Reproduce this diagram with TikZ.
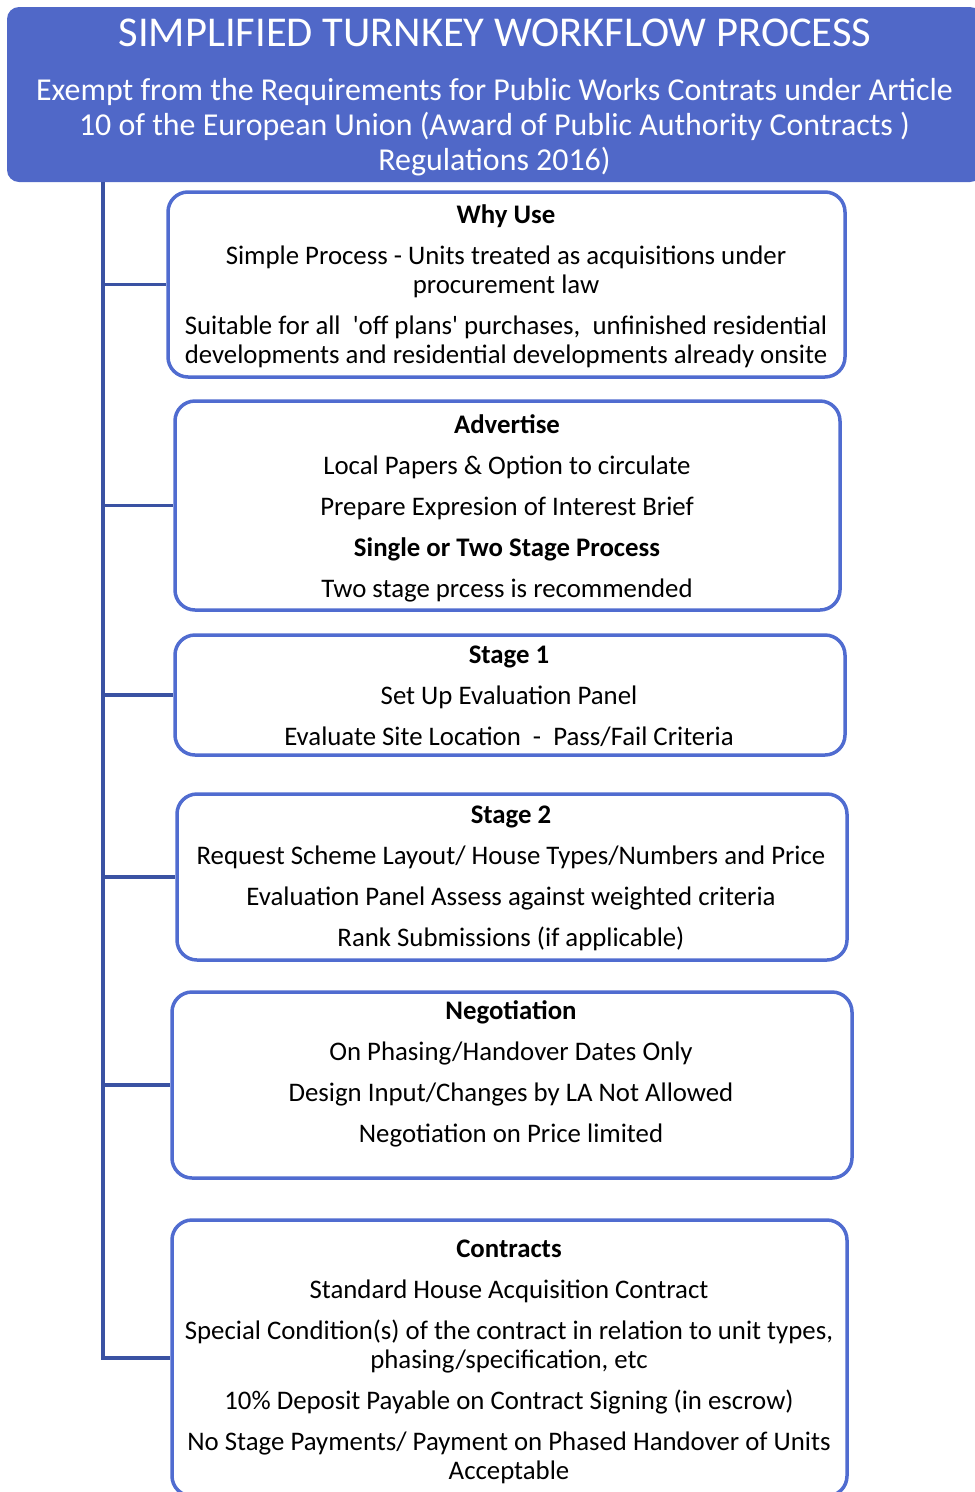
\documentclass[tikz,border=0pt]{standalone}
\usepackage{fontspec}
\setmainfont{Carlito}
\definecolor{hdr}{RGB}{80,104,200}
\definecolor{bord}{RGB}{80,108,208}
\definecolor{spine}{RGB}{58,82,163}
\begin{document}
\begin{tikzpicture}[x=1pt,y=-1pt,
  stagebox/.style={draw=bord, line width=3.5pt, rounded corners=20pt, fill=white, inner sep=0pt},
  stagetext/.style={align=center, font=\fontsize{26.8}{29}\selectfont, text=black, inner sep=0pt},
  link/.style={draw=spine, line width=3.5pt}]
\useasboundingbox (0,0) rectangle (975,1492);
% header
\node[fill=hdr, rounded corners=12pt, minimum width=975pt, minimum height=175pt, inner sep=0pt] (hdr) at (494.5,94.5) {};
\node[text=white, font=\fontsize{42.5}{48}\selectfont, inner sep=0pt] (title) at (495,32.5) {SIMPLIFIED TURNKEY WORKFLOW PROCESS};
\node[text=white, align=center, font=\fontsize{31.9}{35}\selectfont, inner sep=0pt] (sub) at (494.5,127.5) {Exempt from the Requirements for Public Works Contrats under Article\\10 of the European Union (Award of Public Authority Contracts )\\Regulations 2016)};
% boxes
\node[stagebox, minimum width=677pt, minimum height=185pt] (b1) at (506.5,284.5) {};
\node[stagebox, minimum width=665pt, minimum height=209pt] (b2) at (507.5,505.5) {};
\node[stagebox, minimum width=670pt, minimum height=120pt] (b3) at (510,695) {};
\node[stagebox, minimum width=670pt, minimum height=166pt] (b4) at (512,877) {};
\node[stagebox, minimum width=680pt, minimum height=186pt] (b5) at (512,1085) {};
\node[stagebox, minimum width=675pt, minimum height=276pt] (b6) at (509.5,1358) {};
% spine and links
\coordinate (top) at (103,182);
\draw[link] (top) |- (b6.west);
\draw[link] (b1.west -| top) -- (b1.west);
\draw[link] (b2.west -| top) -- (b2.west);
\draw[link] (b3.west -| top) -- (b3.west);
\draw[link] (b4.west -| top) -- (b4.west);
\draw[link] (b5.west -| top) -- (b5.west);
% texts
\node[stagetext] (t1) at (506,286) {\textbf{Why Use}\\[12pt]Simple Process - Units treated as acquisitions under\\procurement law\\[12pt]Suitable for all\ \ \textquotesingle off plans\textquotesingle{} purchases,\ \ unfinished residential\\developments and residential developments already onsite};
\node[stagetext] (t2) at (507,508) {\textbf{Advertise}\\[12pt]Local Papers \& Option to circulate\\[12pt]Prepare Expresion of Interest Brief\\[12pt]\textbf{Single or Two Stage Process}\\[12pt]Two stage prcess is recommended};
\node[stagetext] (t3) at (509,696.5) {\textbf{Stage 1}\\[12pt]Set Up Evaluation Panel\\[12pt]Evaluate Site Location\ \ -\ \ Pass/Fail Criteria};
\node[stagetext] (t4) at (511,878.5) {\textbf{Stage 2}\\[12pt]Request Scheme Layout/ House Types/Numbers and Price\\[12pt]Evaluation Panel Assess against weighted criteria\\[12pt]Rank Submissions (if applicable)};
\node[stagetext] (t5) at (511,1073.5) {\textbf{Negotiation}\\[12pt]On Phasing/Handover Dates Only\\[12pt]Design Input/Changes by LA Not Allowed\\[12pt]Negotiation on Price limited};
\node[stagetext] (t6) at (509,1361.5) {\textbf{Contracts}\\[12pt]Standard House Acquisition Contract\\[12pt]Special Condition(s) of the contract in relation to unit types,\\phasing/specification, etc\\[12pt]10\% Deposit Payable on Contract Signing (in escrow)\\[12pt]No Stage Payments/ Payment on Phased Handover of Units\\Acceptable};
\end{tikzpicture}
\end{document}
